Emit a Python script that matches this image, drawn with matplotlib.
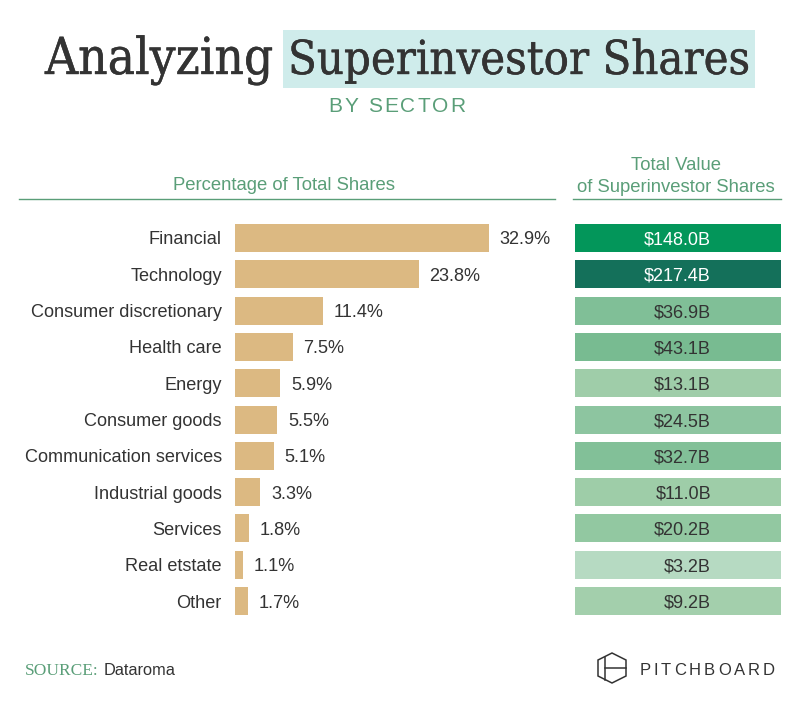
import matplotlib
matplotlib.use("Agg")
import matplotlib.pyplot as plt
import matplotlib.patheffects as pe
from matplotlib.patches import Rectangle, Polygon

# data
sectors = [
    "Financial", "Technology", "Consumer discretionary", "Health care",
    "Energy", "Consumer goods", "Communication services", "Industrial goods",
    "Services", "Real etstate", "Other",
]
share_pct = [32.9, 23.8, 11.4, 7.5, 5.9, 5.5, 5.1, 3.3, 1.8, 1.1, 1.7]
value_bn = [148.0, 217.4, 36.9, 43.1, 13.1, 24.5, 32.7, 11.0, 20.2, 3.2, 9.2]
value_colors = [
    "#03965a", "#14705a", "#80bf97", "#78bb91", "#9fcda9", "#8dc5a0",
    "#82c098", "#9ecda8", "#92c8a1", "#b6dac2", "#a3cfac",
]

W, H = 801, 705
DARK = "#333333"
GREEN = "#5a9e78"
TAN = "#dcb982"
SANS = "Liberation Sans"
SERIF = "Liberation Serif"

fig = plt.figure(figsize=(W / 100, H / 100), dpi=100)
fig.patch.set_facecolor("white")

# background axes in pixel coordinates for titles / rules / footer
bg = fig.add_axes([0, 0, 1, 1], zorder=0)
bg.set_xlim(0, W)
bg.set_ylim(H, 0)
bg.axis("off")
renderer = fig.canvas.get_renderer()


def px_to_fig(x0, y0, x1, y1):
    return [x0 / W, 1 - y1 / H, (x1 - x0) / W, (y1 - y0) / H]


def text_width(t):
    bb = t.get_window_extent(renderer=renderer)
    return bb.width


def tracked(ax, xc, y, s, track, **kw):
    # draw text with extra letter spacing, centred on xc
    pieces = []
    for ch in s:
        t = ax.text(0, y, ch, **kw)
        pieces.append((t, text_width(t) if ch != " " else None))
    space_w = kw.get("fontsize", 10) * 0.28 / 0.72
    widths = [w if w is not None else space_w for _, w in pieces]
    total = sum(widths) + track * (len(s) - 1)
    x = xc - total / 2
    for (t, _), w in zip(pieces, widths):
        t.set_x(x)
        x += w + track


# title
title_kw = dict(family="DejaVu Serif", fontstretch="condensed", color=DARK,
                ha="left", va="baseline",
                path_effects=[pe.withStroke(linewidth=0.3, foreground=DARK)])
bg.add_patch(Rectangle((283, 30), 472, 58, color="#cfeceb", lw=0))
t1 = bg.text(45, 74, "Analyzing", fontsize=36, **title_kw)
t2 = bg.text(288, 74, "Superinvestor Shares", fontsize=36, **title_kw)
scale = 462 / text_width(t2)
t1.set_fontsize(36 * scale)
t2.set_fontsize(36 * scale)
scale1 = 228 / text_width(t1)
t1.set_fontsize(t1.get_fontsize() * scale1)

tracked(bg, 397, 106, "BY SECTOR", 2.0, fontsize=15, family=SANS,
        color=GREEN, va="center")

# column headers
hdr = dict(fontsize=13.3, family=SANS, color=GREEN, ha="center",
           va="center_baseline")
bg.text(284, 184, "Percentage of Total Shares", **hdr)
bg.text(676, 163, "Total Value", **hdr)
bg.text(676, 185, "of Superinvestor Shares", **hdr)
bg.plot([19, 555], [199, 199], color=GREEN, lw=1)
bg.plot([573, 781], [199, 199], color=GREEN, lw=1)

# left panel: percentage bars
row0, step, bar_h = 238, 36.3, 28
n = len(sectors)
top_px, bot_px = 220, 620
ylim = ((bot_px - row0) / step, -(row0 - top_px) / step)
px_per_pct = (488.7 - 235) / 32.9

ax = fig.add_axes(px_to_fig(235, top_px, 555, bot_px), zorder=1)
ax.barh(range(n), share_pct, height=bar_h / step, color=TAN, lw=0)
ax.set_xlim(0, 320 / px_per_pct)
ax.set_ylim(*ylim)
ax.set_yticks(range(n), sectors)
ax.tick_params(axis="y", length=0, pad=9.5, labelsize=13.1, labelcolor=DARK)
for lab in ax.get_yticklabels():
    lab.set_family(SANS)
    lab.set_va("center_baseline")
ax.set_xticks([])
for sp in ax.spines.values():
    sp.set_visible(False)
ax.patch.set_alpha(0)
for i, v in enumerate(share_pct):
    ax.annotate(f"{v}%", (v, i), xytext=(7.5, 0), textcoords="offset points",
                ha="left", va="center_baseline", fontsize=13.1, family=SANS,
                color=DARK)

# right panel: value boxes
ax2 = fig.add_axes(px_to_fig(575, top_px, 781, bot_px), zorder=1)
ax2.barh(range(n), [1] * n, height=bar_h / step, color=value_colors, lw=0)
ax2.set_xlim(0, 1)
ax2.set_ylim(*ylim)
ax2.axis("off")
for i, v in enumerate(value_bn):
    tc = "white" if i < 2 else DARK
    ax2.text((711 - 575) / 206, i, f"${v:.1f}B", ha="right",
             va="center_baseline", fontsize=13, family=SANS, color=tc)

# footer
s1 = bg.text(25, 669, "SOURCE:", fontsize=12.5, family=SERIF, color=GREEN,
             ha="left", va="center_baseline")
bg.text(25 + text_width(s1) + 5, 669, "Dataroma", fontsize=11.8, family=SANS,
        color=DARK, ha="left", va="center_baseline")

hexagon = [(612, 653), (626, 660), (626, 676), (612, 683), (598, 676), (598, 660)]
bg.add_patch(Polygon(hexagon, closed=True, fill=False, ec=DARK, lw=1.1))
bg.plot([605, 605], [657, 680], color=DARK, lw=1.1)
bg.plot([605, 626], [668, 668], color=DARK, lw=1.1)
tracked(bg, 707, 669, "PITCHBOARD", 2.9, fontsize=12, family=SANS,
        color=DARK, va="center_baseline")

fig.savefig("out.png", dpi=100, facecolor="white")
